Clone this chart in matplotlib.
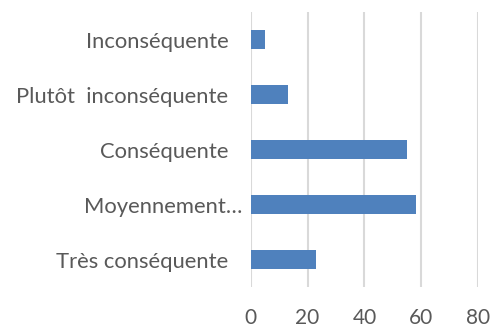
import matplotlib.pyplot as plt
import matplotlib.transforms as mtransforms

# categories from bottom to top
categories = ['Très conséquente', 'Moyennement…', 'Conséquente',
              'Plutôt  inconséquente', 'Inconséquente']
values = [23, 58, 55, 13, 5]
xticks = [0, 20, 40, 60, 80]

plt.rcParams['font.family'] = ['Lato', 'DejaVu Sans']

fig = plt.figure(figsize=(4.97, 3.30), dpi=100)
ax = fig.add_axes([0.5044, 0.1303, 0.458, 0.8333])

ax.barh(range(len(categories)), values, height=0.36, color='#4f81bd', zorder=3)

ax.set_xlim(0, 80)
ax.set_ylim(-0.5, len(categories) - 0.5)
ax.set_xticks(xticks)
ax.set_yticks(range(len(categories)))
ax.set_yticklabels(categories)
ax.xaxis.grid(True, color='#d9d9d9', linewidth=1.5, zorder=0)
for s in ax.spines.values():
    s.set_visible(False)
ax.tick_params(axis='both', length=0, labelcolor='#595959')
ax.tick_params(axis='x', pad=15, labelsize=15)
ax.tick_params(axis='y', pad=16, labelsize=15.8)

# Excel shifts the truncated label a bit to the right
offset = mtransforms.ScaledTranslation(14 / 100, 0, fig.dpi_scale_trans)
for lab in ax.get_yticklabels():
    if lab.get_text().endswith('…'):
        lab.set_transform(lab.get_transform() + offset)

fig.savefig('out.png', dpi=100)
